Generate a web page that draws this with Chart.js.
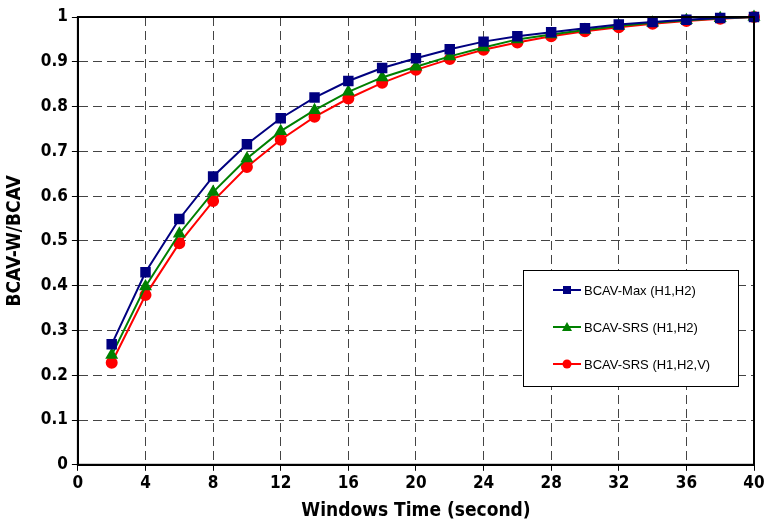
<!DOCTYPE html>
<html>
<head>
<meta charset="utf-8">
<script src="https://cdn.jsdelivr.net/npm/chart.js@4"></script>
<style>
  html, body { margin: 0; padding: 0; background: #fff; }
  #wrap { width: 768px; height: 522px; }
</style>
</head>
<body>
<div id="wrap"><canvas id="bcavChart"></canvas></div>
<script>
// ===== data =====
const windowTimes = [2, 4, 6, 8, 10, 12, 14, 16, 18, 20, 22, 24, 26, 28, 30, 32, 34, 36, 38, 40];

const bcavMax = [0.269, 0.430, 0.549, 0.644, 0.716, 0.774, 0.820, 0.857, 0.886, 0.908,
                 0.928, 0.945, 0.957, 0.966, 0.975, 0.983, 0.989, 0.994, 0.998, 1.0];

const bcavSrs = [0.245, 0.398, 0.516, 0.609, 0.684, 0.745, 0.792, 0.833, 0.865, 0.889,
                 0.912, 0.932, 0.950, 0.961, 0.971, 0.980, 0.987, 0.993, 0.997, 1.0];

const bcavSrsV = [0.228, 0.379, 0.495, 0.589, 0.665, 0.726, 0.777, 0.818, 0.853, 0.882,
                  0.906, 0.927, 0.943, 0.957, 0.968, 0.977, 0.985, 0.991, 0.996, 1.0];

const seriesNames = ["BCAV-Max (H1,H2)", "BCAV-SRS (H1,H2)", "BCAV-SRS (H1,H2,V)"];

const FONT = "'DejaVu Sans Condensed', 'Liberation Sans', Arial, sans-serif";

function toPoints(ys) {
    return windowTimes.map((x, i) => ({ x: x, y: ys[i] }));
}

// frame around the plot area
const framePlugin = {
    id: "frame",
    afterDraw(chart) {
        const a = chart.chartArea;
        const ctx = chart.ctx;
        ctx.save();
        ctx.strokeStyle = "#000";
        ctx.lineWidth = 2;
        ctx.strokeRect(a.left, a.top, a.right - a.left, a.bottom - a.top);
        ctx.restore();
    }
};

// legend box inside the plot
const boxLegendPlugin = {
    id: "boxLegend",
    afterDraw(chart) {
        const ctx = chart.ctx;
        const bx = 523, by = 270, bw = 215, bh = 116;
        ctx.save();
        ctx.fillStyle = "#fff";
        ctx.fillRect(bx, by, bw, bh);
        ctx.strokeStyle = "#000";
        ctx.lineWidth = 1;
        ctx.strokeRect(bx + 0.5, by + 0.5, bw, bh);
        chart.data.datasets.forEach((ds, i) => {
            const cy = by + 20 + i * 37;
            ctx.strokeStyle = ds.borderColor;
            ctx.lineWidth = 2;
            ctx.beginPath();
            ctx.moveTo(553, cy);
            ctx.lineTo(581, cy);
            ctx.stroke();
            ctx.fillStyle = ds.backgroundColor;
            ctx.beginPath();
            if (ds.pointStyle === "rect") {
                ctx.fillRect(567 - 4, cy - 4, 8, 8);
            } else if (ds.pointStyle === "triangle") {
                ctx.moveTo(567, cy - 5);
                ctx.lineTo(572, cy + 4);
                ctx.lineTo(562, cy + 4);
                ctx.closePath();
                ctx.fill();
            } else {
                ctx.arc(567, cy, 4.5, 0, Math.PI * 2);
                ctx.fill();
            }
            ctx.fillStyle = "#000";
            ctx.font = "13px 'Liberation Sans', Arial, sans-serif";
            ctx.textBaseline = "middle";
            ctx.fillText(ds.label, 584, cy + 1);
        });
        ctx.restore();
    }
};

new Chart(document.getElementById("bcavChart"), {
    type: "line",
    data: {
        datasets: [
            {
                label: seriesNames[0],
                data: toPoints(bcavMax),
                borderColor: "#000080",
                backgroundColor: "#000080",
                pointStyle: "rect",
                pointRadius: 6,
                borderWidth: 2,
                clip: false
            },
            {
                label: seriesNames[1],
                data: toPoints(bcavSrs),
                borderColor: "#008000",
                backgroundColor: "#008000",
                pointStyle: "triangle",
                pointRadius: 5.5,
                borderWidth: 2,
                clip: false
            },
            {
                label: seriesNames[2],
                data: toPoints(bcavSrsV),
                borderColor: "#ff0000",
                backgroundColor: "#ff0000",
                pointStyle: "circle",
                pointRadius: 5,
                borderWidth: 2,
                clip: false
            }
        ]
    },
    options: {
        responsive: true,
        maintainAspectRatio: false,
        animation: false,
        layout: { padding: { top: 17, right: 14, left: 4, bottom: 0 } },
        plugins: {
            legend: { display: false },
            tooltip: { enabled: false }
        },
        scales: {
            x: {
                type: "linear",
                min: 0,
                max: 40,
                ticks: { stepSize: 4, color: "#000", font: { family: FONT, size: 17, weight: "bold" }, padding: 3 },
                grid: { color: "#444", lineWidth: 1, tickLength: 6, tickColor: "#000" },
                border: { dash: [9, 5], color: "#000", width: 2 },
                title: { display: true, text: "Windows Time (second)", color: "#000", font: { family: FONT, size: 19, weight: "bold" }, padding: { top: 2, bottom: 0 } }
            },
            y: {
                min: 0,
                max: 1,
                ticks: {
                    stepSize: 0.1,
                    color: "#000",
                    font: { family: FONT, size: 17, weight: "bold" },
                    padding: 4,
                    callback: (v) => String(Number(v.toFixed(1)))
                },
                grid: { color: "#444", lineWidth: 1, tickLength: 6, tickColor: "#000" },
                border: { dash: [9, 5], color: "#000", width: 2 },
                title: { display: true, text: "BCAV-W/BCAV", color: "#000", font: { family: FONT, size: 19, weight: "bold" }, padding: { top: 0, bottom: 10 } }
            }
        }
    },
    plugins: [framePlugin, boxLegendPlugin]
});
</script>
</body>
</html>
